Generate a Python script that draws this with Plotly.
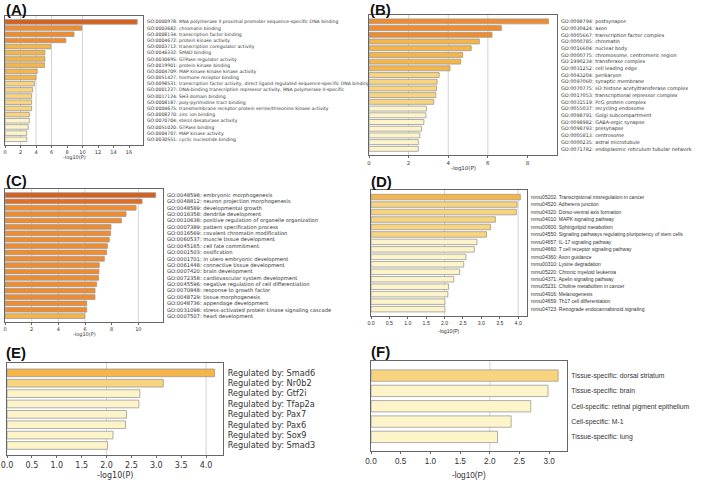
import plotly.graph_objects as go

W, H = 709, 482

# ---- data ----
A_TERMS = [
    "GO:0000978: RNA polymerase II proximal promoter sequence-specific DNA binding",
    "GO:0003682: chromatin binding",
    "GO:0008134: transcription factor binding",
    "GO:0004672: protein kinase activity",
    "GO:0003712: transcription coregulator activity",
    "GO:0046332: SMAD binding",
    "GO:0030695: GTPase regulator activity",
    "GO:0019901: protein kinase binding",
    "GO:0004709: MAP kinase kinase kinase activity",
    "GO:0051427: hormone receptor binding",
    "GO:0098531: transcription factor activity, direct ligand regulated sequence-specific DNA binding",
    "GO:0001227: DNA-binding transcription repressor activity, RNA polymerase II-specific",
    "GO:0017124: SH3 domain binding",
    "GO:0008187: poly-pyrimidine tract binding",
    "GO:0004675: transmembrane receptor protein serine/threonine kinase activity",
    "GO:0008270: zinc ion binding",
    "GO:0070704: sterol desaturase activity",
    "GO:0051020: GTPase binding",
    "GO:0004707: MAP kinase activity",
    "GO:0030551: cyclic nucleotide binding",
]
A_VALUES = [17.05, 9.9, 8.9, 7.85, 5.9, 5.15, 5.15, 5.1, 4.15, 4.0,
            3.8, 3.57, 3.44, 3.44, 3.44, 3.14, 3.14, 3.0, 2.8, 2.8]

B_TERMS = [
    "GO:0098794: postsynapse",
    "GO:0030424: axon",
    "GO:0005667: transcription factor complex",
    "GO:0000785: chromatin",
    "GO:0016604: nuclear body",
    "GO:0000775: chromosome, centromeric region",
    "GO:1990234: transferase complex",
    "GO:0031252: cell leading edge",
    "GO:0043204: perikaryon",
    "GO:0097060: synaptic membrane",
    "GO:0070775: H3 histone acetyltransferase complex",
    "GO:0017053: transcriptional repressor complex",
    "GO:0031519: PcG protein complex",
    "GO:0055037: recycling endosome",
    "GO:0098791: Golgi subcompartment",
    "GO:0098982: GABA-ergic synapse",
    "GO:0098793: presynapse",
    "GO:0005813: centrosome",
    "GO:0000235: astral microtubule",
    "GO:0071782: endoplasmic reticulum tubular network",
]
B_VALUES = [9.06, 6.68, 6.21, 5.57, 5.16, 4.73, 4.63, 4.09, 3.54, 3.44,
            3.41, 3.37, 3.27, 2.9, 2.87, 2.77, 2.65, 2.57, 2.49, 2.49]

C_TERMS = [
    "GO:0048598: embryonic morphogenesis",
    "GO:0048812: neuron projection morphogenesis",
    "GO:0048589: developmental growth",
    "GO:0016358: dendrite development",
    "GO:0010638: positive regulation of organelle organization",
    "GO:0007389: pattern specification process",
    "GO:0016569: covalent chromatin modification",
    "GO:0060537: muscle tissue development",
    "GO:0045165: cell fate commitment",
    "GO:0001503: ossification",
    "GO:0001701: in utero embryonic development",
    "GO:0061448: connective tissue development",
    "GO:0007420: brain development",
    "GO:0072358: cardiovascular system development",
    "GO:0045596: negative regulation of cell differentiation",
    "GO:0070848: response to growth factor",
    "GO:0048729: tissue morphogenesis",
    "GO:0048736: appendage development",
    "GO:0031098: stress-activated protein kinase signaling cascade",
    "GO:0007507: heart development",
]
C_VALUES = [11.3, 10.28, 9.83, 9.08, 8.73, 7.95, 7.92, 7.82, 7.68, 7.62,
            7.45, 7.07, 7.05, 7.02, 6.87, 6.75, 6.75, 6.13, 6.13, 5.98]

D_TERMS = [
    "mmu05202: Transcriptional misregulation in cancer",
    "mmu04520: Adherens junction",
    "mmu04320: Dorso-ventral axis formation",
    "mmu04010: MAPK signaling pathway",
    "mmu00600: Sphingolipid metabolism",
    "mmu04550: Signaling pathways regulating pluripotency of stem cells",
    "mmu04657: IL-17 signaling pathway",
    "mmu04660: T cell receptor signaling pathway",
    "mmu04360: Axon guidance",
    "mmu00310: Lysine degradation",
    "mmu05220: Chronic myeloid leukemia",
    "mmu04371: Apelin signaling pathway",
    "mmu05231: Choline metabolism in cancer",
    "mmu04916: Melanogenesis",
    "mmu04659: Th17 cell differentiation",
    "mmu04723: Retrograde endocannabinoid signaling",
]
D_VALUES = [4.06, 3.97, 3.95, 3.38, 3.25, 3.14, 2.88, 2.81,
            2.58, 2.52, 2.41, 2.25, 2.11, 2.09, 2.01, 2.01]

E_TERMS = [
    "Regulated by: Smad6",
    "Regulated by: Nr0b2",
    "Regulated by: Gtf2i",
    "Regulated by: Tfap2a",
    "Regulated by: Pax7",
    "Regulated by: Pax6",
    "Regulated by: Sox9",
    "Regulated by: Smad3",
]
E_VALUES = [4.17, 3.14, 2.67, 2.65, 2.40, 2.38, 2.13, 2.02]

F_TERMS = [
    "Tissue-specific: dorsal striatum",
    "Tissue-specific: brain",
    "Cell-specific: retinal pigment epithelium",
    "Cell-specific: M-1",
    "Tissue-specific: lung",
]
F_VALUES = [3.15, 2.98, 2.69, 2.36, 2.13]

X_TITLE = "-log10(P)"

# ---- style ----
DARK = "#D65F1B"
ORANGE = "#F08C2E"
AMBER = "#F5B548"
LIGHT = "#F8D47E"
PALE = "#FDF5C9"

VERDANA = "DejaVu Sans, Verdana, sans-serif"
NARROW = "Liberation Sans, Arial, sans-serif"

# box = (left, right, top, bottom) in pixels; title_y = centre of x title
PANELS = [
    dict(tag="(A)", terms=A_TERMS, values=A_VALUES,
         tiers=[(1, DARK), (3, ORANGE), (6, AMBER), (6, LIGHT), (4, PALE)],
         box=(5, 143, 16, 145), xmax=17.8, dtick=2, fmt="d", grid=[2, 4, 6, 10],
         font=VERDANA, lsize=4.6, tsize=5, tag_pos=(4, 9), title_y=158),
    dict(tag="(B)", terms=B_TERMS, values=B_VALUES,
         tiers=[(3, ORANGE), (5, AMBER), (5, LIGHT), (7, PALE)],
         box=(369, 557, 15, 155), xmax=9.49, dtick=2, fmt="d", grid=[2, 4, 6],
         font=VERDANA, lsize=4.9, tsize=5.5, tag_pos=(368, 9), title_y=168),
    dict(tag="(C)", terms=C_TERMS, values=C_VALUES,
         tiers=[(1, DARK), (1, "#E36E22"), (17, ORANGE), (1, AMBER)],
         box=(5, 163, 189, 322), xmax=11.85, dtick=2, fmt="d", grid=[2, 4, 6, 10],
         font=VERDANA, lsize=5.2, tsize=5, tag_pos=(4, 180), title_y=334),
    dict(tag="(D)", terms=D_TERMS, values=D_VALUES,
         tiers=[(1, AMBER), (5, LIGHT), (10, PALE)],
         box=(371, 527, 190, 316), xmax=4.24, dtick=0.5, fmt=".1f", grid=[2, 4],
         font=NARROW, lsize=5.0, tsize=5.2, tag_pos=(369, 181), title_y=331),
    dict(tag="(E)", terms=E_TERMS, values=E_VALUES,
         tiers=[(1, AMBER), (1, LIGHT), (6, PALE)],
         box=(7, 223, 363, 455), xmax=4.34, dtick=0.5, fmt=".1f", grid=[2, 4],
         font=VERDANA, lsize=8.2, tsize=8, tag_pos=(4, 352), title_y=475),
    dict(tag="(F)", terms=F_TERMS, values=F_VALUES,
         tiers=[(1, LIGHT), (4, PALE)],
         box=(371, 567, 361, 451), xmax=3.30, dtick=0.5, fmt=".1f", grid=[2],
         font=NARROW, lsize=6.8, tsize=8.2, tag_pos=(369, 351), title_y=475),
]


def tier_colors(tiers):
    out = []
    for count, color in tiers:
        out.extend([color] * count)
    return out


fig = go.Figure()
layout = {}
annotations = []
shapes = []

for i, p in enumerate(PANELS, start=1):
    sfx = "" if i == 1 else str(i)
    xa, ya = "x" + sfx, "y" + sfx
    left, right, top, bottom = p["box"]
    n = len(p["terms"])

    fig.add_trace(go.Bar(
        x=p["values"], y=p["terms"], orientation="h",
        xaxis=xa, yaxis=ya, width=0.74,
        marker=dict(color=tier_colors(p["tiers"]),
                    line=dict(color="#9a9a9a", width=0.8)),
        hoverinfo="x+y", showlegend=False,
    ))

    layout["xaxis" + sfx] = dict(
        domain=[left / W, right / W], anchor=ya, range=[0, p["xmax"]],
        automargin=False,
        dtick=p["dtick"], tick0=0, tickformat=p["fmt"], showgrid=False,
        zeroline=False, showline=True, mirror=True, linecolor="#666666",
        linewidth=1, ticks="outside", ticklen=2, tickcolor="#666666",
        tickfont=dict(family=p["font"], size=p["tsize"], color="#333333"),
    )
    layout["yaxis" + sfx] = dict(
        domain=[1 - bottom / H, 1 - top / H], anchor=xa, side="right",
        automargin=False,
        type="category", categoryorder="array", categoryarray=p["terms"],
        tickmode="array", tickvals=p["terms"], range=[n - 0.08, -0.95],
        showgrid=False, zeroline=False, showline=True, mirror=True,
        linecolor="#666666", linewidth=1, ticks="",
        ticklabelstandoff=2,
        tickfont=dict(family=p["font"], size=p["lsize"], color="#333333"),
    )

    for g in p["grid"]:
        shapes.append(dict(type="line", xref=xa, yref=ya + " domain",
                           x0=g, x1=g, y0=0, y1=1, layer="below",
                           line=dict(color="#d4d4d4", width=1)))

    # x-axis title
    annotations.append(dict(text=X_TITLE, xref=xa + " domain", yref="paper",
                            x=0.5, y=1 - p["title_y"] / H, xanchor="center",
                            yanchor="middle", showarrow=False, borderpad=0,
                            font=dict(family=p["font"], size=p["tsize"], color="#333333")))

    tx, ty = p["tag_pos"]
    annotations.append(dict(text="<b>" + p["tag"] + "</b>", xref="paper", yref="paper",
                            x=tx / W, y=1 - ty / H, xanchor="left", yanchor="middle",
                            showarrow=False,
                            font=dict(family="Liberation Sans, Arial, sans-serif",
                                      size=15, color="#111111")))

layout.update(
    width=W, height=H, margin=dict(l=0, r=0, t=0, b=0),
    paper_bgcolor="#FFFFFF", plot_bgcolor="#FFFFFF",
    bargap=0.26, showlegend=False,
    annotations=annotations, shapes=shapes,
)
fig.update_layout(**layout)

# the page body has a default 8px margin; drop it so the figure sits at 0,0
fig.write_html("out.html", config={"displayModeBar": False},
               post_script="document.body.style.margin = '0';")
